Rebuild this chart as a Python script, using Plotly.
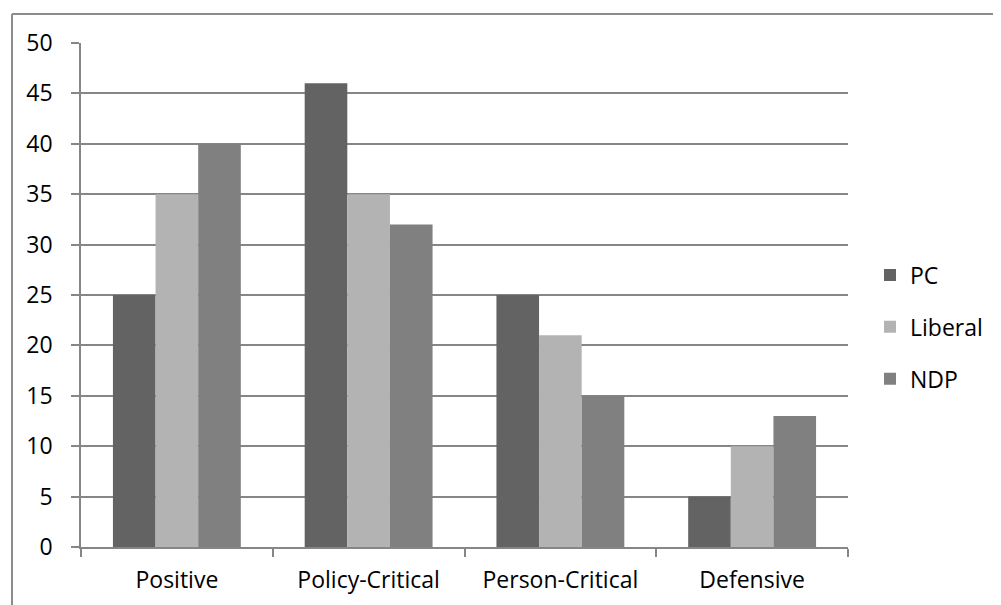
import plotly.graph_objects as go

categories = ["Positive", "Policy-Critical", "Person-Critical", "Defensive"]
pc = [25, 46, 25, 5]
liberal = [35, 35, 21, 10]
ndp = [40, 32, 15, 13]
series_names = ["PC", "Liberal", "NDP"]
colors = ["#636363", "#b3b3b3", "#808080"]
y_ticks = [0, 5, 10, 15, 20, 25, 30, 35, 40, 45, 50]

# page body has an 8px margin, so figure coords = screen coords - 8
OFF = 8
W, H = 1001, 605
L, R, T, B = 81 - OFF, 848 - OFF, 43 - OFF, 547 - OFF

fig = go.Figure()
for name, vals, c in zip(series_names, [pc, liberal, ndp], colors):
    fig.add_trace(go.Bar(x=categories, y=vals, name=name, legendgroup=name,
                         marker=dict(color=c, line=dict(width=0))))

grid = "#868686"
font = dict(family="Open Sans", size=23, color="#000000")

def px_x(p):
    return (p - OFF - L) / (R - L)

def px_y(p):
    return (B - (p - OFF)) / (B - T)

fig.update_layout(
    width=W, height=H,
    margin=dict(l=L, r=W - R, t=T, b=H - B, pad=0),
    paper_bgcolor="white", plot_bgcolor="white",
    barmode="group", bargap=0.333, bargroupgap=0,
    font=font,
    showlegend=True,
    legend=dict(x=px_x(870), y=px_y(327), xanchor="left", yanchor="middle",
                font=dict(family="Open Sans", size=23, color="#000000"), itemwidth=30,
                traceorder="grouped", tracegroupgap=19, bgcolor="rgba(0,0,0,0)"),
    xaxis=dict(showline=True, linecolor=grid, linewidth=1.5, ticks="outside",
               tickson="boundaries", ticklen=8, tickcolor=grid, tickwidth=1.5,
               showgrid=False, tickfont=font, ticklabelstandoff=12),
    yaxis=dict(range=[0, 50], tickvals=y_ticks, showline=True, linecolor=grid, linewidth=1.5,
               ticks="outside", ticklen=8, tickcolor=grid, tickwidth=1.5,
               showgrid=True, gridcolor=grid, gridwidth=1.5, zeroline=False,
               tickfont=font, ticklabelstandoff=14),
    shapes=[
        dict(type="line", xref="paper", yref="paper", x0=px_x(12), x1=px_x(12),
             y0=px_y(14), y1=px_y(640), line=dict(color="#8c8c8c", width=2)),
        dict(type="line", xref="paper", yref="paper", x0=px_x(12), x1=px_x(1040),
             y0=px_y(14), y1=px_y(14), line=dict(color="#8c8c8c", width=2)),
    ],
)
fig.write_html("out.html")
